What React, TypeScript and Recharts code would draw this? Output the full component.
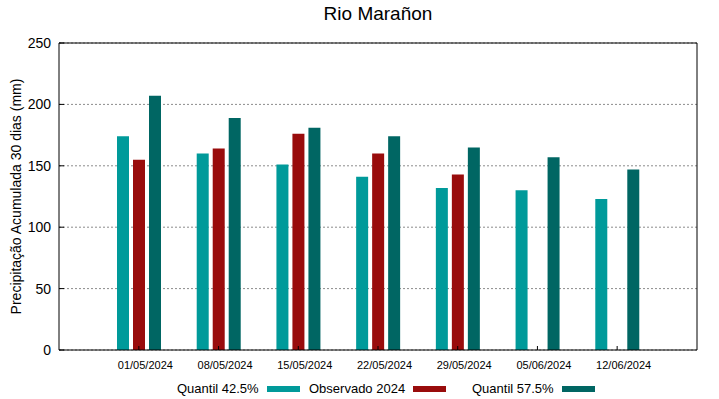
import { BarChart, Bar, XAxis, YAxis, CartesianGrid } from "recharts";

const dates = ["01/05/2024", "08/05/2024", "15/05/2024", "22/05/2024", "29/05/2024", "05/06/2024", "12/06/2024"];
const quantil425 = [174, 160, 151, 141, 132, 130, 123];
const observado = [155, 164, 176, 160, 143, null, null];
const quantil575 = [207, 189, 181, 174, 165, 157, 147];
const yTicks = [0, 50, 100, 150, 200, 250];

const COLORS = { q425: "#009a9a", obs: "#990c0c", q575: "#006663" };
const FONT = "'Liberation Sans', Arial, sans-serif";

// table for recharts, built from the arrays above
const data = dates.map((d, i) => ({
  date: d,
  q425: quantil425[i],
  obs: observado[i],
  q575: quantil575[i],
}));

const legendItems = [
  { label: "Quantil 42.5%", color: COLORS.q425, left: 177 },
  { label: "Observado 2024", color: COLORS.obs, left: 309 },
  { label: "Quantil 57.5%", color: COLORS.q575, left: 472 },
];

const YLabel = (props: any) => {
  const vb = props.viewBox || { y: 43, height: 307 };
  const cy = vb.y + vb.height / 2;
  return (
    <text
      x={21}
      y={cy}
      transform={`rotate(-90, 21, ${cy})`}
      textAnchor="middle"
      fontSize={14}
      fontFamily={FONT}
      fill="#000"
    >
      Precipitação Acumulada 30 dias (mm)
    </text>
  );
};

export default function App() {
  return (
    <div style={{ position: "absolute", left: 0, top: 0, width: 719, height: 399, background: "#fff", fontFamily: FONT }}>
      <div style={{ position: "absolute", left: 59, width: 638, top: 3, textAlign: "center", fontSize: 19, color: "#000" }}>
        Rio Marañon
      </div>
      <BarChart
        width={719}
        height={399}
        data={data}
        margin={{ top: 42, right: 21, bottom: 19, left: 0 }}
        barSize={12}
        barGap={4}
      >
        <CartesianGrid vertical={false} stroke="#8c8c8c" strokeDasharray="2 2" />
        <XAxis
          dataKey="date"
          height={30}
          padding={{ left: 40, right: 40 }}
          axisLine={{ stroke: "#000" }}
          tickLine={{ stroke: "#000" }}
          tickSize={-4}
          tickMargin={15}
          tick={{ fontSize: 11, fill: "#000", fontFamily: FONT, dx: 6.5 }}
          interval={0}
        />
        <XAxis xAxisId="top" orientation="top" dataKey="date" height={1} tick={false} tickLine={false} axisLine={{ stroke: "#000" }} />
        <YAxis
          width={59}
          domain={[0, 250]}
          ticks={yTicks}
          interval={0}
          axisLine={{ stroke: "#000" }}
          tickLine={{ stroke: "#000" }}
          tickSize={-5}
          tickMargin={13}
          tick={{ fontSize: 14, fill: "#000", fontFamily: FONT }}
          label={<YLabel />}
        />
        <YAxis
          yAxisId="right"
          orientation="right"
          width={1}
          domain={[0, 250]}
          ticks={yTicks}
          interval={0}
          tick={false}
          tickLine={{ stroke: "#000" }}
          tickSize={-4}
          axisLine={{ stroke: "#000" }}
        />
        <Bar dataKey="q425" fill={COLORS.q425} isAnimationActive={false} />
        <Bar dataKey="obs" fill={COLORS.obs} isAnimationActive={false} />
        <Bar dataKey="q575" fill={COLORS.q575} isAnimationActive={false} />
      </BarChart>
      {legendItems.map((it) => (
        <div key={it.label} style={{ position: "absolute", left: it.left, top: 381, fontSize: 13, color: "#000", display: "flex", alignItems: "center", whiteSpace: "nowrap" }}>
          <span>{it.label}</span>
          <span style={{ display: "inline-block", width: 33, height: 6, background: it.color, marginLeft: 8 }} />
        </div>
      ))}
    </div>
  );
}
